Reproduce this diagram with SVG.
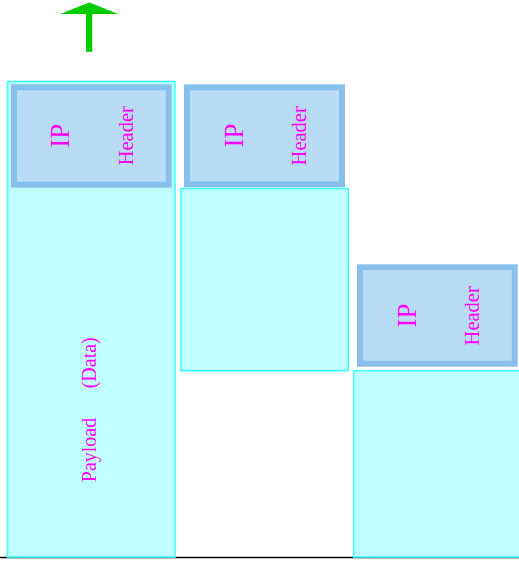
<svg xmlns="http://www.w3.org/2000/svg" width="519" height="563" viewBox="0 0 519 563">
<style>
.cyan{fill:#c0ffff;stroke:#40ffff;stroke-width:1.6}
.hdr{fill:#b8dcf4;stroke:#88c0ec;stroke-width:6}
.t{font-family:"Liberation Serif","Times New Roman",serif;fill:#ff00ff;text-anchor:middle}
.ip{font-size:27px}
.h{font-size:20.5px}
.p{font-size:20px}
</style>
<rect width="519" height="563" fill="#ffffff"/>
<line x1="0" y1="557.5" x2="519" y2="557.5" stroke="#000000" stroke-width="1.5"/>
<g id="arrow">
<polygon points="60,14 89.3,2.5 118.3,14 92.3,14 92.3,51.7 86,51.7 86,14" fill="#00cc00"/>
</g>
<g id="packet1">
<rect class="cyan" x="7.5" y="81.5" width="167.5" height="475.5"/>
<rect class="hdr" x="14" y="87.3" width="154.7" height="97.4"/>
<text class="t ip" transform="translate(69,135.8) rotate(-90)">IP</text>
<text class="t h" transform="translate(132.5,135.7) rotate(-90)">Header</text>
<text class="t p" transform="translate(95.8,450) rotate(-90)"><tspan x="0">Payload</tspan><tspan x="87.2">(Data)</tspan></text>
</g>
<g id="packet2">
<rect class="cyan" x="181" y="188.5" width="167.3" height="182.2"/>
<rect class="hdr" x="187" y="87.3" width="155" height="97"/>
<text class="t ip" transform="translate(243.2,135.5) rotate(-90)">IP</text>
<text class="t h" transform="translate(305.5,135.8) rotate(-90)">Header</text>
</g>
<g id="packet3">
<rect class="cyan" x="353.7" y="370.7" width="170" height="186.3"/>
<rect class="hdr" x="360" y="267.3" width="154.7" height="96.4"/>
<text class="t ip" transform="translate(416,315.5) rotate(-90)">IP</text>
<text class="t h" transform="translate(479.2,315.8) rotate(-90)">Header</text>
</g>
<g id="connectors"/>
</svg>
